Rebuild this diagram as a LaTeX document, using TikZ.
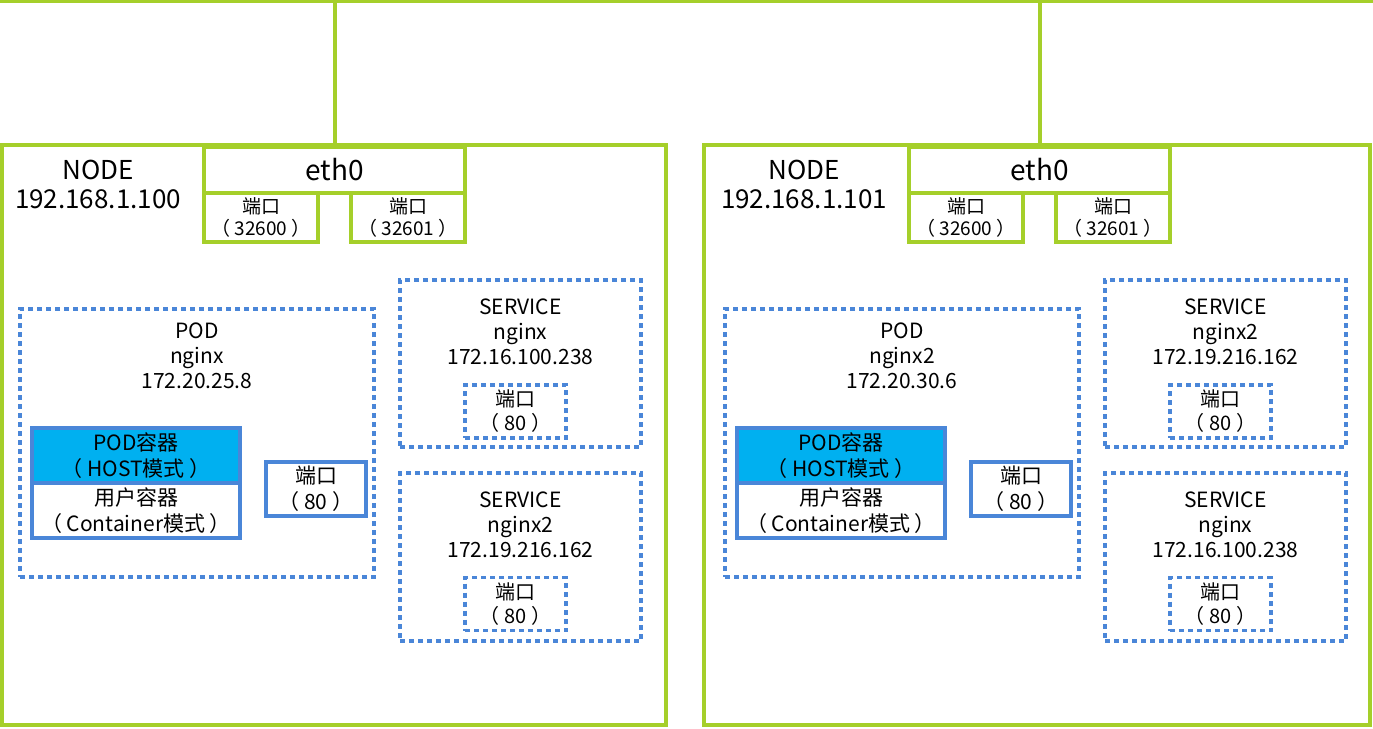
\documentclass[tikz,border=0pt]{standalone}
\usepackage{fontspec}
\setmainfont{Noto Sans CJK SC}
\usepackage{tikz}
\usetikzlibrary{positioning}

\definecolor{NodeGreen}{HTML}{A5CF2A}
\definecolor{LinkBlue}{HTML}{4A86D8}
\definecolor{PodCyan}{HTML}{00B0F0}

\tikzset{
  host/.style={draw=NodeGreen, line width=4pt, rectangle, inner sep=0pt, outer sep=0pt},
  nic/.style={host, font=\fontsize{28}{32}\selectfont, minimum width=261pt, minimum height=46pt},
  hostport/.style={host, align=center, font=\fontsize{19}{22}\selectfont, minimum width=114pt, minimum height=49pt},
  svcbox/.style={draw=LinkBlue, line width=3.5pt, dash pattern=on 5pt off 4pt, rectangle, inner sep=0pt, outer sep=0pt},
  svcport/.style={svcbox, align=center, font=\fontsize{20}{24}\selectfont, minimum width=101pt, minimum height=53pt},
  podbox/.style={draw=LinkBlue, line width=4pt, rectangle, inner sep=0pt, outer sep=0pt, align=center, font=\fontsize{21}{26}\selectfont},
  hosttext/.style={align=center, font=\fontsize{26}{29}\selectfont},
  boxtext/.style={align=center, font=\fontsize{21}{25}\selectfont}
}

\begin{document}
\begin{tikzpicture}[x=1pt,y=-1pt]

\useasboundingbox (0,0) rectangle (1373,728);

% left node
\node[host, minimum width=664pt, minimum height=580pt] (hostL) at (334,435) {};
\node[hosttext] (nameL) at (98,184) {NODE\\192.168.1.100};
\node[nic] (nicL) at (334.5,170) {eth0};
\node[hostport, anchor=north west] (npL1) at (nicL.south west) {端口\\（ 32600 ）};
\node[hostport, anchor=north east] (npL2) at (nicL.south east) {端口\\（ 32601 ）};

\node[svcbox, minimum width=354pt, minimum height=268pt] (podL) at (197,443) {};
\node[boxtext] (podLtxt) at (197,356) {POD\\nginx\\172.20.25.8};
\node[podbox, fill=PodCyan, minimum width=208pt, minimum height=55pt] (podcL) at (136,455.5) {POD容器\\（ HOST模式 ）};
\node[podbox, minimum width=208pt, minimum height=55pt, below=0pt of podcL] (usercL) {用户容器\\（ Container模式 ）};
\node[podbox, minimum width=100pt, minimum height=54pt] (p80L) at (316,489) {端口\\（ 80 ）};

\node[svcbox, minimum width=241pt, minimum height=167pt] (svcL1) at (520.5,363.5) {};
\node[boxtext] (svcL1txt) at (520.5,332) {SERVICE\\nginx\\172.16.100.238};
\node[svcport] (spL1) at (515.5,411.5) {端口\\（ 80 ）};

\node[svcbox, minimum width=241pt, minimum height=168pt] (svcL2) at (520.5,557) {};
\node[boxtext] (svcL2txt) at (520.5,525) {SERVICE\\nginx2\\172.19.216.162};
\node[svcport] (spL2) at (515.5,604) {端口\\（ 80 ）};

% right node
\node[host, minimum width=666pt, minimum height=580pt] (hostR) at (1037,435) {};
\node[hosttext] (nameR) at (804,184) {NODE\\192.168.1.101};
\node[nic] (nicR) at (1039.5,170) {eth0};
\node[hostport, anchor=north west] (npR1) at (nicR.south west) {端口\\（ 32600 ）};
\node[hostport, anchor=north east] (npR2) at (nicR.south east) {端口\\（ 32601 ）};

\node[svcbox, minimum width=354pt, minimum height=268pt] (podR) at (902,443) {};
\node[boxtext] (podRtxt) at (902,356) {POD\\nginx2\\172.20.30.6};
\node[podbox, fill=PodCyan, minimum width=208pt, minimum height=55pt] (podcR) at (841,455.5) {POD容器\\（ HOST模式 ）};
\node[podbox, minimum width=208pt, minimum height=55pt, below=0pt of podcR] (usercR) {用户容器\\（ Container模式 ）};
\node[podbox, minimum width=100pt, minimum height=54pt] (p80R) at (1021,489) {端口\\（ 80 ）};

\node[svcbox, minimum width=241pt, minimum height=167pt] (svcR1) at (1225.5,363.5) {};
\node[boxtext] (svcR1txt) at (1225.5,332) {SERVICE\\nginx2\\172.19.216.162};
\node[svcport] (spR1) at (1220.5,411.5) {端口\\（ 80 ）};

\node[svcbox, minimum width=241pt, minimum height=168pt] (svcR2) at (1225.5,557) {};
\node[boxtext] (svcR2txt) at (1225.5,525) {SERVICE\\nginx\\172.16.100.238};
\node[svcport] (spR2) at (1220.5,604) {端口\\（ 80 ）};

% network
\coordinate (busW) at (0,1);
\coordinate (busE) at (1373,1);
\draw[NodeGreen, line width=4pt] (busW) -- (busE);
\draw[NodeGreen, line width=4pt] (nicL.north) -- (nicL.north |- busW);
\draw[NodeGreen, line width=4pt] (nicR.north) -- (nicR.north |- busW);

\end{tikzpicture}
\end{document}
